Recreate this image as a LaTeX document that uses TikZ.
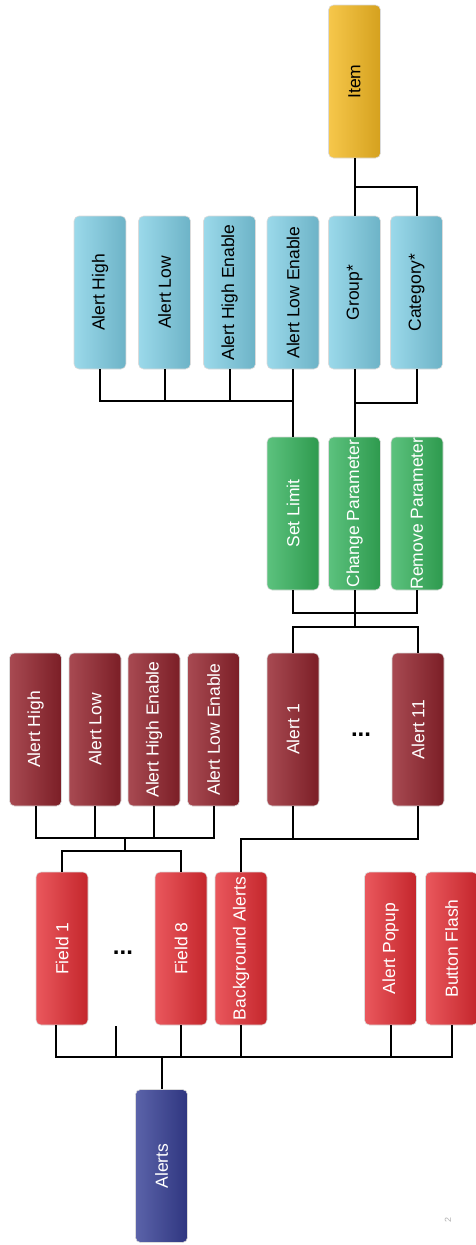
\documentclass[tikz,border=0pt]{standalone}
\usepackage{fontspec}
\setmainfont{Liberation Sans}
\definecolor{dkL}{HTML}{A84A52}
\definecolor{dkR}{HTML}{7B1E26}
\definecolor{rdL}{HTML}{EA585D}
\definecolor{rdR}{HTML}{C4262C}
\definecolor{nvL}{HTML}{5B63A9}
\definecolor{nvR}{HTML}{2F3680}
\definecolor{gnL}{HTML}{5CC27E}
\definecolor{gnR}{HTML}{2E9A4E}
\definecolor{blL}{HTML}{9BD9EA}
\definecolor{blR}{HTML}{6DB3C7}
\definecolor{ylL}{HTML}{F6C74B}
\definecolor{ylR}{HTML}{D5A11E}
\begin{document}
\begin{tikzpicture}[x=1pt,y=-1pt,
  box/.style={rounded corners=5pt, minimum width=153pt, minimum height=52pt,
    rotate=90, inner sep=0pt, draw=black!14, line width=0.6pt,
    font=\fontsize{17.5}{20}\selectfont},
  darkbox/.style={box, left color=dkL, right color=dkR, text=white},
  redbox/.style={box, left color=rdL, right color=rdR, text=white},
  navybox/.style={box, left color=nvL, right color=nvR, text=white},
  greenbox/.style={box, left color=gnL, right color=gnR, text=white},
  bluebox/.style={box, left color=blL, right color=blR, text=black},
  yellowbox/.style={box, left color=ylL, right color=ylR, text=black},
  dotsnode/.style={font=\fontsize{24}{28}\selectfont\bfseries, inner sep=0pt, anchor=base},
  wire/.style={line width=2pt, black}]
\useasboundingbox (0,0) rectangle (476,1245);

% top item
\node[yellowbox] (item) at (354.5,81.5) {Item};

% blue parameters
\node[bluebox] (bah)  at (100,292.5) {Alert High};
\node[bluebox] (bal)  at (164.5,292.5) {Alert Low};
\node[bluebox] (bahe) at (229.5,292.5) {Alert High Enable};
\node[bluebox] (bale) at (293,292.5) {Alert Low Enable};
\node[bluebox] (grp)  at (354.5,292.5) {Group*};
\node[bluebox] (cat)  at (416.5,292.5) {Category*};

% green actions
\node[greenbox] (setl) at (293,513.5) {Set Limit};
\node[greenbox] (chg)  at (354.5,513.5) {Change Parameter};
\node[greenbox] (rem)  at (417,513.5) {Remove Parameter};

% dark red
\node[darkbox] (dah)  at (35.5,729.5) {Alert High};
\node[darkbox] (dal)  at (95,729.5) {Alert Low};
\node[darkbox] (dahe) at (154,729.5) {Alert High Enable};
\node[darkbox] (dale) at (213.5,729.5) {Alert Low Enable};
\node[darkbox] (a1)   at (293,729.5) {Alert 1};
\node[darkbox] (a11)  at (418,729.5) {Alert 11};
\node[dotsnode] (dotsA) at (361,736) {...};

% red
\node[redbox] (f1)  at (62,948.5) {Field 1};
\node[redbox] (f8)  at (181,948.5) {Field 8};
\node[redbox] (bga) at (241,948.5) {Background Alerts};
\node[redbox] (pop) at (390.5,948.5) {Alert Popup};
\node[redbox] (bf)  at (451.5,948.5) {Button Flash};
\node[dotsnode] (dotsF) at (123,954) {...};

% root
\node[navybox] (alerts) at (161.5,1166) {Alerts};

% page number
\node[rotate=90, text=black!30, font=\fontsize{9}{10}\selectfont, inner sep=0pt] (pnum) at (448,1220) {2};

% ---- connectors ----
\coordinate (jItem) at (354.5,187);
\draw[wire] (item.west) -- (grp.east);
\draw[wire] (jItem) -| (cat.east);

\coordinate (bb) at (293,401);
\draw[wire] (bah.west) |- (bb);
\draw[wire] (bal.west) -- (bal.west |- bb);
\draw[wire] (bahe.west) -- (bahe.west |- bb);
\draw[wire] (bale.west) -- (setl.east);

\coordinate (cb) at (354.5,403);
\draw[wire] (grp.west) -- (chg.east);
\draw[wire] (cat.west) |- (cb);

\coordinate (g1) at (354.5,613);
\coordinate (g2) at (354.5,627);
\draw[wire] (setl.west) |- (g1) -| (rem.west);
\draw[wire] (chg.west) -- (g2);
\draw[wire] (a1.east) |- (g2) -| (a11.east);

\coordinate (ab) at (241,839);
\draw[wire] (a11.west) |- (ab) -- (bga.east);
\draw[wire] (a1.west) -- (a1.west |- ab);

\coordinate (db) at (124.5,838);
\coordinate (fb) at (124.5,851);
\draw[wire] (dah.west) |- (db) -| (dale.west);
\draw[wire] (dal.west) -- (dal.west |- db);
\draw[wire] (dahe.west) -- (dahe.west |- db);
\draw[wire] (db) -- (fb);
\draw[wire] (f1.east) |- (fb) -| (f8.east);

\coordinate (alb) at (161.5,1057);
\coordinate (dstem) at (116,1026);
\draw[wire] ([xshift=-6pt]f1.west) |- (alb) -| (bf.west);
\draw[wire] (dstem) -- (dstem |- alb);
\draw[wire] (f8.west) -- (f8.west |- alb);
\draw[wire] (bga.west) -- (bga.west |- alb);
\draw[wire] (pop.west) -- (pop.west |- alb);
\draw[wire] (alerts.east) -- (alb);
\end{tikzpicture}
\end{document}
